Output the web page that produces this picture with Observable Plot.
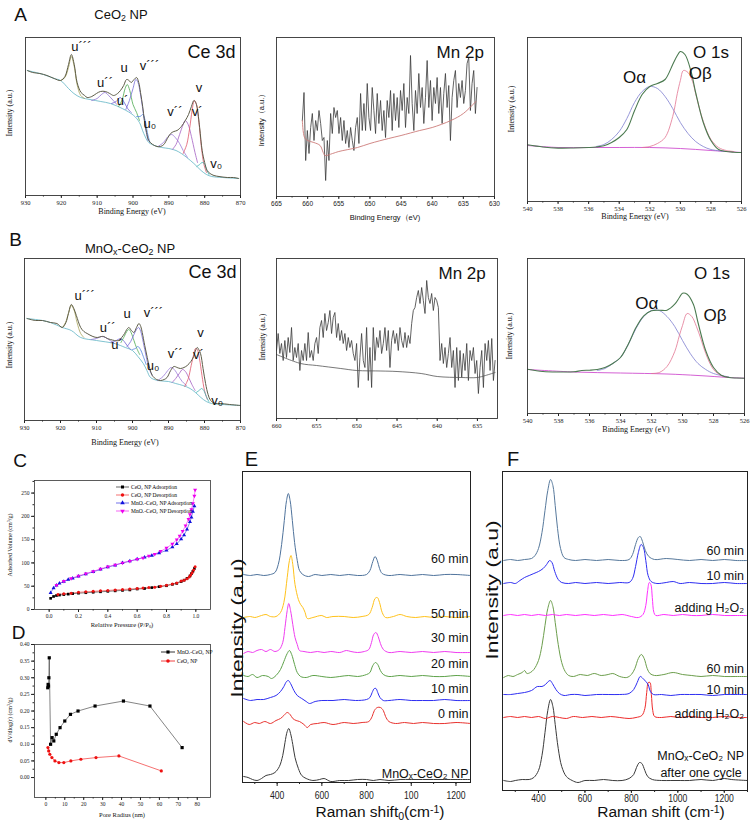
<!DOCTYPE html>
<html><head><meta charset="utf-8">
<script src="https://cdn.jsdelivr.net/npm/d3@7"></script>
<script src="https://cdn.jsdelivr.net/npm/@observablehq/plot@0.6"></script>
<style>
html,body{margin:0;padding:0;background:#fff;}
#fig{position:relative;width:753px;height:823px;overflow:hidden;background:#fff;}
sub{font-size:0.68em;vertical-align:-0.28em;line-height:0;}
sup{font-size:0.68em;vertical-align:0.45em;line-height:0;}
</style></head><body><div id="fig"></div>
<script>
// ---------------- DATA ----------------
// Ce 3d, CeO2 NP  [binding energy eV, intensity a.u.]
const ceA_env = [[929.5,122],[928,120],[926,119],[924,117],[922,114],[920.2,112],[919,116],[918,128],[917.2,138],[916.4,128],[915.6,110],[914.5,100],[913.5,97],[912.8,95],[911.5,96],[910.2,99],[909.1,101],[907.7,101],[906.5,99],[905.4,97],[904.3,99],[903.5,102],[902.6,107],[901.8,113],[901.1,112],[900.5,110],[899.7,113],[899.0,115],[898.4,110],[897.9,100],[897.3,86],[896.8,72],[896.2,60],[895.6,52],[894.5,48],[893.3,46],[892.3,46],[891.4,48],[890.4,54],[889.5,59],[888.6,61],[887.7,62],[886.5,66],[885.4,72],[884.5,78],[883.7,86],[883.0,92],[882.5,90],[882.1,85],[881.4,65],[880.7,42],[880.0,30],[879.3,22],[878.5,19],[877.4,17],[876,16],[873.7,15],[872,15],[870.5,14]];
const ceA_bg = [[929.5,122],[925,118],[922,114],[920.2,112],[918,104],[916.5,99],[914.6,95],[912,93],[909,91],[906.3,89],[903,84],[899.8,77],[898.2,70],[897,59],[895.6,50],[894,47],[892,45],[890,44],[888,42],[886.5,39],[885,35],[883,29],[881,22],[879.5,18],[878,16],[875,15],[870.5,14]];
const ceA_u3 = [[920.2,112],[919,115],[918,125],[917.2,136],[916.4,126],[915.6,108],[914.6,97],[913.5,94]];
const ceA_u2 = [[911.5,92],[910,94],[908.8,98],[907.8,100],[906.8,97],[905.5,92],[904.5,88]];
const ceA_u1 = [[906,89],[904.7,91],[903.6,95],[902.6,91],[901.5,84],[900.5,80]];
const ceA_u  = [[904,86],[903,93],[902.2,104],[901.6,108],[900.9,102],[900,88],[899,80],[898.2,72]];
const ceA_v3 = [[902,83],[901,92],[900,104],[899.2,113],[898.6,110],[898,100],[897.3,84],[896.5,64],[895.8,52]];
const ceA_u0 = [[899,76],[898,76],[897.3,78],[896.6,72],[896,60],[895.3,50]];
const ceA_v2 = [[893,46],[891.5,50],[890.2,56],[889.2,58],[888.2,55],[887,49],[886,42],[884.8,35]];
const ceA_v1 = [[889,43],[888,48],[887,58],[886,68],[885.4,72],[884.6,68],[883.7,56],[882.7,40],[882,30]];
const ceA_v  = [[886,39],[885,48],[884.2,64],[883.5,82],[882.9,92],[882.3,88],[881.6,70],[880.9,45],[880.2,28],[879.5,20]];
const ceA_v0 = [[882.2,26],[881.4,28],[880.7,30],[880.1,29],[879.5,23],[878.8,18]];
// Ce 3d, MnOx-CeO2 NP
const ceB_env = [[929.3,102],[927,100],[925,100],[922.8,98],[921,97],[919.5,93],[918.5,98],[917.8,107],[917.0,116],[916.3,112],[915.6,105],[914.4,93],[913.5,89],[912.6,87],[911,84],[909.8,83],[908.6,84],[908,84],[907,82],[906.1,81],[905,80],[903.8,80],[903,83],[902.2,87],[901.6,91],[901.0,93],[900.3,90],[899.6,88],[898.9,93],[898.2,97],[897.7,94],[897.3,88],[896.6,75],[895.9,63],[895.2,52],[894.5,45],[893.3,41],[892.2,40],[891.2,41],[890.4,43],[889.4,50],[888.5,54],[887.6,53],[886.7,52],[885.7,53],[884.8,55],[883.8,59],[883.0,64],[882.4,71],[882.0,73],[881.6,71],[881.1,67],[880.4,52],[879.7,37],[879,26],[878.3,20],[877,17],[875.6,17],[873,16],[870,15]];
const ceB_bg = [[929.3,102],[925,100],[922.8,98],[919.5,93],[917,90],[914.4,83],[910,80],[905,77],[902,73],[900,70],[898.5,64],[897,57],[896,50],[895,43],[893,40],[890,39],[888,37],[886,35],[884,32],[882.5,28],[881,23],[879.5,19],[878,17],[875,16],[870,15]];
const ceB_u3 = [[919.5,93],[918.6,98],[917.8,107],[917,115],[916.2,110],[915.4,98],[914.4,87],[913.5,83]];
const ceB_u2 = [[911.5,81],[910,82],[908.6,84],[907.5,83],[906.2,80],[905,77]];
const ceB_u1 = [[906,78],[905,79],[904,81],[903.2,82],[902.3,79],[901.3,74],[900.5,71]];
const ceB_u  = [[903.2,78],[902.3,84],[901.6,89],[901,91],[900.4,88],[899.6,80],[898.8,72],[898,66]];
const ceB_v3 = [[901.5,74],[900.5,79],[899.6,86],[898.9,91],[898.3,93],[897.7,89],[897,78],[896.2,64],[895.4,52],[894.5,45]];
const ceB_u0 = [[900,71],[899.2,72],[898.5,74],[897.8,71],[897,64],[896.2,56]];
const ceB_v2 = [[893,40],[891.5,44],[890.2,50],[889.3,53],[888.4,51],[887.3,45],[886.2,39],[885,35]];
const ceB_v1 = [[889,38],[888,42],[887,47],[886.1,51],[885.3,49],[884.4,43],[883.5,36],[882.6,30]];
const ceB_v  = [[885.5,34],[884.5,42],[883.7,55],[883,66],[882.5,72],[882,71],[881.4,62],[880.7,45],[880,30],[879.2,21]];
const ceB_v0 = [[882.3,28],[881.5,30],[880.8,32],[880.2,30],[879.5,24],[878.8,19]];
const cePeakNames = ["u´´´","u´´","u´","u","v´´´","u₀","v´´","v´","v","v₀"];

// Mn 2p (intensity sampled evenly from start to end energy)
const mnA_range = [660.85, 632.8];
const mnA_vals = [76,104,36,66,43,69,83,56,76,66,86,73,56,59,16,56,36,83,63,89,79,86,63,79,56,76,53,66,49,69,56,46,69,79,53,103,66,93,66,113,79,66,109,86,63,103,73,96,66,86,59,96,79,106,66,103,76,99,69,106,86,113,69,99,83,141,93,66,106,83,123,89,109,73,99,136,89,116,76,109,93,119,83,109,73,103,123,89,111,56,99,116,126,89,113,99,116,93,106,133,139,86,113,126,83,109];
const mnA_bg = [[660.85,76],[660.5,59],[660,56],[659,54],[658,51],[657.5,44],[657.2,41],[656,43],[655,45],[652,49],[650,53],[647,58],[645,61],[642,66],[640,69],[637,76],[635,83],[633,95]];
const mnB_range = [660, 632.8];
const mnB_vals = [68,85,65,75,58,78,61,81,66,91,58,71,61,75,48,68,58,75,58,86,61,68,58,75,81,65,91,98,81,105,88,96,108,85,101,106,81,95,78,88,75,85,68,81,71,78,65,58,75,31,61,85,58,51,91,38,71,31,91,58,81,71,88,65,75,91,68,88,51,78,88,75,85,68,91,78,71,86,71,83,75,95,108,111,121,128,115,131,118,105,138,121,115,125,108,121,118,111,58,75,55,71,51,65,81,51,68,31,71,38,68,41,65,48,75,38,68,58,71,45,58,25,51,68,31,75,58,78,48,80,38,58];
const mnB_bg = [[660,64],[657,55],[655,53],[652,50],[650,48],[647,47.5],[645,47],[642,45],[640,42],[637,41],[635,41],[634,43],[632.8,46]];

// O 1s
const oA_env = [[540,56.7],[539,54.5],[538,53.4],[537,53.5],[536,54],[535.5,54.5],[535,55.7],[534.5,59],[534,64],[533.5,72],[533,90.7],[532.5,107],[532,115],[531.5,118],[531,122],[530.5,137],[530.2,146],[530,150],[529.7,147],[529.3,130],[529,109],[528.5,79],[528,61],[527.5,52],[527,50],[526.5,49.3],[526,49]];
const oA_bg = [[540,56],[538,54],[536,54],[534,54],[532,54],[530,53],[528,51],[526,49]];
const oA_alpha = [[535.5,55],[535,57],[534.5,62],[534,70],[533.5,83],[533,99],[532.5,110],[532,115],[531.5,113],[531,105],[530.5,93],[530,79],[529.5,68],[529,60],[528.5,55],[528,52],[527,50]];
const oA_beta = [[532.5,54],[532,55],[531.5,58],[531,64],[530.5,85],[530.2,108],[530,121],[529.8,131],[529.5,129],[529.2,120],[529,108],[528.5,80],[528,62],[527.5,54],[527,51],[526.5,50]];
const oB_env = [[540,44.3],[539,42],[538,41.5],[537,41.7],[536.5,43],[536,43.3],[535.5,44],[535,46],[534.5,50],[534,56],[533.5,69.3],[533,86],[532.5,97.7],[532,102.7],[531.5,103.3],[531,103.3],[530.5,109.3],[530.2,116],[530,120.3],[529.7,119.3],[529.3,109.3],[529,91],[528.5,62.7],[528,46],[527.5,38.3],[527,36],[526.5,35.5],[526,35.3]];
const oB_bg = [[540,44],[537,41.5],[534,40.5],[531,39.5],[529,38],[527,36],[526,35.3]];
const oB_alpha = [[535.5,43],[535,45],[534.5,50],[534,56],[533.5,69],[533,85],[532.5,97],[532,103],[531.5,103],[531,97],[530.5,87],[530,73],[529.5,60],[529,50],[528.5,44],[528,40],[527,36.5]];
const oB_beta = [[532,40],[531.5,41],[531,47],[530.5,62],[530.2,78],[530,88],[529.7,100],[529.4,97],[529.1,87],[528.8,74],[528.5,60],[528,44],[527.5,38],[527,36]];

// C: N2 isotherms [P/P0, volume cm3/g]
const iso_ceAds = [[0.01,24],[0.03,28],[0.05,30],[0.07,31],[0.1,32],[0.13,33],[0.16,34],[0.2,35],[0.25,36],[0.3,37],[0.35,38],[0.4,39],[0.45,40],[0.5,41],[0.55,42],[0.6,44],[0.65,45],[0.7,47],[0.75,49],[0.8,51],[0.84,54],[0.87,56],[0.9,60],[0.92,63],[0.94,67],[0.96,72],[0.97,77],[0.98,82],[0.99,88]];
const iso_ceDes = [[0.995,92],[0.985,85],[0.975,79],[0.965,74],[0.955,70],[0.94,66],[0.92,63],[0.9,61],[0.87,57],[0.84,55],[0.8,52],[0.76,50],[0.72,48],[0.68,47],[0.64,46],[0.6,45],[0.55,44],[0.5,43],[0.45,42],[0.4,41],[0.35,40],[0.3,39],[0.25,38],[0.2,37],[0.15,35],[0.1,34],[0.06,32]];
const iso_mnAds = [[0.01,36],[0.03,46],[0.05,52],[0.07,56],[0.1,60],[0.13,64],[0.16,67],[0.2,71],[0.25,76],[0.3,81],[0.35,86],[0.4,91],[0.45,95],[0.5,100],[0.55,104],[0.6,108],[0.65,112],[0.7,116],[0.75,121],[0.8,127],[0.84,134],[0.87,141],[0.9,151],[0.92,160],[0.94,172],[0.96,188],[0.97,198],[0.98,210],[0.99,222]];
const iso_mnDes = [[0.995,257],[0.99,244],[0.98,228],[0.97,215],[0.96,204],[0.95,194],[0.93,180],[0.91,168],[0.89,158],[0.87,150],[0.84,141],[0.8,132],[0.76,125],[0.72,119],[0.68,115],[0.64,111],[0.6,108],[0.55,104],[0.5,100],[0.45,96],[0.4,92],[0.35,87],[0.3,82],[0.25,77],[0.2,72],[0.15,67],[0.1,61],[0.05,52]];
const iso_names = ["CeO₂ NP Adsorption","CeO₂ NP Desorption","MnOₓ-CeO₂ NP Adsorption","MnOₓ-CeO₂ NP Desorption"];

// D: pore size distribution [radius nm, dV/dlog(r)]
const pore_mn = [[1.0,0.27],[1.2,0.28],[1.4,0.275],[1.6,0.30],[1.8,0.36],[2.5,0.10],[3.3,0.12],[4.2,0.11],[5.5,0.13],[7.5,0.15],[10,0.17],[13,0.19],[17,0.20],[26,0.215],[41,0.23],[55,0.215],[72,0.09]];
const pore_ce = [[1.1,0.09],[1.5,0.08],[2.1,0.07],[3.2,0.06],[4.8,0.05],[6.9,0.045],[9.5,0.045],[13.2,0.05],[18.5,0.055],[26.5,0.06],[38.6,0.065],[61,0.02]];
const pore_names = ["MnOₓ-CeO₂ NP","CeO₂ NP"];

// E: Raman spectra [Raman shift cm-1, intensity a.u. (stacked)]
const E_np = [[250,6],[270,5],[290,3],[310,2],[330,4],[350,7],[370,8],[390,10],[410,16],[425,27],[435,40],[445,51],[452,54],[460,49],[470,38],[480,25],[495,14],[510,7],[530,4],[560,2],[590,3],[610,4],[640,1],[680,2],[720,2],[760,3],[800,3],[830,2],[860,3],[900,2],[950,3],[1000,3],[1050,3],[1100,3],[1150,3],[1200,3],[1265,3]];
const E_0 = [[250,61],[275,58],[300,60],[320,59],[345,61],[370,59],[395,62],[415,64],[430,67],[445,70],[458,68],[470,64],[485,62],[500,61],[520,58],[535,55],[550,58],[580,59],[610,60],[650,58],[700,60],[740,59],[780,60],[810,61],[825,66],[835,72],[848,75],[862,75],[875,72],[885,66],[900,61],[930,59],[970,60],[1010,59],[1050,60],[1100,59],[1150,59],[1200,60],[1265,59]];
const E_10 = [[250,84],[280,82],[310,83],[340,83],[370,85],[395,87],[415,91],[430,96],[442,101],[450,102],[460,99],[475,92],[490,87],[510,84],[530,81],[545,79],[570,81],[600,82],[650,82],[700,83],[750,82],[800,83],[815,85],[825,90],[835,94],[842,94],[850,90],[860,85],[875,82],[900,82],[950,83],[1000,82],[1050,82],[1100,82],[1150,83],[1200,82],[1265,82]];
const E_20 = [[250,107],[270,106],[290,108],[310,105],[335,107],[360,106],[375,104],[395,107],[415,113],[430,121],[445,129],[455,132],[465,128],[478,118],[490,110],[505,106],[530,105],[560,107],[600,106],[640,105],[680,106],[720,107],[760,106],[800,108],[815,110],[828,117],[840,120],[850,118],[862,112],[875,108],[900,106],[950,107],[1000,106],[1050,107],[1100,106],[1150,106],[1200,107],[1265,106]];
const E_30 = [[250,129],[270,131],[290,130],[310,132],[330,133],[350,131],[370,133],[390,131],[410,133],[425,140],[435,155],[445,172],[452,179],[460,172],[470,158],[480,145],[490,138],[500,132],[520,131],[550,130],[580,131],[610,130],[640,131],[680,130],[710,132],[730,131],[760,130],[790,131],[810,133],[822,140],[832,148],[842,150],[852,146],[862,139],[875,133],[900,130],[950,131],[1000,130],[1050,131],[1100,130],[1150,131],[1200,130],[1265,130]];
const E_50 = [[250,165],[280,166],[300,165],[330,167],[350,168],[370,166],[395,166],[415,170],[430,180],[445,205],[455,222],[462,227],[470,218],[480,198],[495,183],[505,178],[515,175],[525,170],[535,164],[560,165],[600,167],[620,165],[650,166],[700,166],[740,165],[780,166],[810,168],[825,175],[838,184],[848,185],[858,180],[870,170],[885,165],[920,166],[950,168],[980,166],[1020,165],[1060,166],[1100,165],[1150,166],[1200,165],[1265,166]];
const E_60 = [[250,208],[280,207],[310,208],[340,207],[370,208],[390,210],[405,218],[420,238],[432,262],[442,282],[450,289],[458,282],[468,262],[478,240],[490,222],[500,212],[515,208],[540,206],[570,208],[600,207],[640,208],[680,207],[720,208],[760,207],[800,208],[815,212],[828,221],[838,226],[848,222],[858,214],[870,209],[900,207],[950,208],[1000,207],[1050,208],[1100,207],[1150,208],[1200,208],[1265,207]];
const E_names = ["MnOₓ-CeO₂ NP","0 min","10 min","20 min","30 min","50 min","60 min"];
const E_tickValues = [400,600,800,1000,1200];
const E_tickLabels = ["400","600","800","100","1200"];

// F: Raman spectra over two H2O2 cycles
const F_np = [[250,10],[280,9],[300,10],[330,11],[360,11],[380,13],[400,20],[415,35],[428,58],[440,80],[452,91],[462,84],[472,66],[485,42],[500,24],[520,14],[545,10],[570,8],[600,10],[640,10],[680,11],[720,10],[760,10],[790,12],[810,16],[822,23],[835,28],[845,27],[858,20],[870,14],[890,11],[930,10],[970,10],[1010,10],[1050,10],[1100,11],[1150,10],[1200,12],[1230,11],[1300,10]];
const F_h2o2a = [[250,73],[280,74],[310,73],[340,74],[370,73],[400,74],[430,72],[460,74],[490,73],[520,72],[550,74],[590,73],[630,74],[670,73],[710,74],[750,73],[790,72],[820,73],[845,75],[858,82],[866,98],[873,108],[880,108],[886,96],[892,80],[900,74],[930,73],[970,74],[1010,73],[1050,74],[1100,73],[1150,73],[1200,74],[1250,73],[1300,73]];
const F_10a = [[250,96],[280,96],[310,97],[340,98],[370,100],[395,104],[415,104],[430,106],[442,109],[450,110],[460,107],[475,101],[490,97],[510,95],[540,96],[570,96],[600,95],[650,96],[700,96],[750,96],[790,97],[810,101],[825,108],[838,114],[850,112],[862,109],[872,106],[882,99],[895,96],[930,96],[970,95],[1010,96],[1050,96],[1100,96],[1150,95],[1200,96],[1250,96],[1300,96]];
const F_60a = [[250,113],[270,115],[290,114],[310,116],[330,118],[340,120],[350,117],[365,118],[380,121],[400,130],[415,145],[428,165],[440,182],[452,190],[462,184],[472,168],[485,146],[500,128],[515,119],[530,115],[550,114],[580,116],[610,115],[640,117],[670,115],[700,116],[720,117],[750,114],[780,113],[800,116],[815,122],[830,132],[843,136],[855,132],[868,122],[880,117],[900,115],[940,116],[980,118],[1020,116],[1060,115],[1100,114],[1150,115],[1200,114],[1250,114],[1300,114]];
const F_h2o2b = [[250,175],[280,176],[310,175],[340,176],[370,175],[400,176],[430,175],[460,176],[490,175],[520,176],[560,175],[600,176],[640,175],[680,176],[720,175],[760,176],[800,174],[830,173],[850,176],[862,185],[870,200],[877,208],[884,206],[890,193],[897,178],[905,175],[940,176],[980,175],[1020,176],[1060,175],[1100,175],[1150,176],[1200,175],[1250,175],[1300,175]];
const F_10b = [[250,207],[280,208],[300,207],[320,210],[340,213],[360,215],[380,217],[400,219],[420,222],[435,226],[448,230],[458,228],[470,219],[485,211],[500,208],[530,207],[560,208],[600,207],[650,208],[700,207],[750,208],[790,208],[805,212],[818,224],[830,238],[842,246],[852,243],[862,230],[872,215],[885,209],[910,207],[950,208],[980,209],[1010,207],[1050,208],[1100,207],[1150,207],[1200,208],[1250,207],[1300,207]];
const F_60b = [[250,230],[280,231],[310,230],[340,231],[370,232],[385,235],[400,242],[415,258],[428,280],[440,300],[452,311],[462,305],[472,285],[482,262],[495,242],[510,233],[530,231],[560,230],[600,231],[650,230],[700,231],[750,230],[790,231],[805,236],[818,246],[830,253],[838,254],[848,249],[860,240],[875,234],[900,231],[950,232],[1000,231],[1050,230],[1100,231],[1150,230],[1200,231],[1250,230],[1300,230]];
const F_names = ["MnOₓ-CeO₂ NP","adding H₂O₂","10 min","60 min","adding H₂O₂","10 min","60 min"];
const F_tickValues = [400,600,800,1000,1200];

// ---------------- STYLE / LAYOUT ----------------
const fig = document.getElementById('fig');
const SERIF = '"Liberation Serif","DejaVu Serif",serif';
const SANS = '"Liberation Sans",Arial,"DejaVu Sans",sans-serif';
const cePeakColors = ["#a7a35a","#8c6fcf","#6f5fd0","#4aa84e","#7468d8","#4d7fe0","#9a7ad8","#a35fc3","#e0566a","#3fb2b2"];

function addPlot(frame, m, opts) {
  const [x0,y0,x1,y1] = frame, [mt,mr,mb,ml] = m;
  const svg = Plot.plot({
    width: x1-x0+ml+mr, height: y1-y0+mt+mb,
    marginTop: mt, marginRight: mr, marginBottom: mb, marginLeft: ml, inset: 0,
    ...opts,
    style: {background:'transparent', overflow:'visible', color:'#222', ...(opts.style||{})}
  });
  svg.style.position='absolute'; svg.style.left=(x0-ml)+'px'; svg.style.top=(y0-mt)+'px';
  fig.appendChild(svg);
  return svg;
}
// narrow the tick labels horizontally (the reference's axis numbers are condensed)
function squeezeTickLabels(svg, k) {
  svg.querySelectorAll('[aria-label="x-axis tick label"] text').forEach(t => {
    t.setAttribute('transform', (t.getAttribute('transform') || '') + ` scale(${k},1)`);
  });
}
function label(html, x, y, {size=12, font=SANS, rotate=0, anchor='middle', color='#111', sx=1}={}) {
  const o = document.createElement('div');
  o.style.cssText = `position:absolute;left:${x}px;top:${y}px;width:0;height:0;transform-origin:0 0;transform:scale(${sx},1) rotate(${rotate}deg);`;
  const s = document.createElement('span');
  const tx = anchor==='middle'?'-50%':anchor==='end'?'-100%':'0';
  s.style.cssText = `position:absolute;left:0;top:0;transform:translate(${tx},-50%);white-space:nowrap;font-size:${size}px;font-family:${font};line-height:1;color:${color}`;
  s.innerHTML = html;
  o.appendChild(s); fig.appendChild(o);
}
const note = (str, x, y, o={}) => Plot.text([str], {x: () => x, y: () => y, text: d => d, fontSize: 13, fontFamily: SANS, fill: '#111', ...o});
const X = d => d[0], Y = d => d[1];
const evenly = (range, vals) => vals.map((v,i) => [range[0] + (range[1]-range[0]) * i / (vals.length-1), v]);
const longForm = (names, arrs) => arrs.flatMap((a,i) => a.map(p => [names[i], p[0], p[1]]));

// ---------------- PANEL A / B : Ce 3d ----------------
function ce3d(frame, ydom, env, bg, comps, labelPos) {
  const comp = longForm(cePeakNames, comps);
  addPlot(frame, [2,4,14,2], {
    x:{domain:[930,870]}, y:{domain:ydom, axis:null},
    color:{domain:cePeakNames, range:cePeakColors},
    style:{fontFamily:SERIF, fontSize:'6.5px'},
    marks:[
      Plot.axisX({ticks:d3.range(870,931,5), tickSize:1.5, tickFormat:()=>'', label:null}),
      Plot.axisX({ticks:d3.range(870,931,10), tickSize:3, tickPadding:1.5, label:null}),
      Plot.line(bg, {x:X, y:Y, stroke:'#5fb4c4', strokeWidth:0.8, curve:'catmull-rom'}),
      Plot.line(comp, {x:d=>d[1], y:d=>d[2], z:d=>d[0], stroke:d=>d[0], strokeWidth:0.8, curve:'catmull-rom'}),
      Plot.line(env, {x:X, y:Y, stroke:'#5d5c48', strokeWidth:1, curve:'catmull-rom'}),
      Plot.frame({stroke:'#333', strokeWidth:0.9}),
      note("Ce 3d", labelPos.ce[0], labelPos.ce[1], {fontSize:18}),
      ...cePeakNames.map((n,i)=>note(n, labelPos.p[i][0], labelPos.p[i][1]))
    ]
  });
}
ce3d([25,37,240,195], [-3,155], ceA_env, ceA_bg,
  [ceA_u3,ceA_u2,ceA_u1,ceA_u,ceA_v3,ceA_u0,ceA_v2,ceA_v1,ceA_v,ceA_v0],
  {ce:[878.1,140], p:[[914.4,146],[907.8,110],[902.9,92],[902.5,125],[895.4,127],[895.3,69],[888.3,81],[882.1,81],[881.6,105],[876.8,29]]});
ce3d([24,258,240,420], [0,162], ceB_env, ceB_bg,
  [ceB_u3,ceB_u2,ceB_u1,ceB_u,ceB_v3,ceB_u0,ceB_v2,ceB_v1,ceB_v,ceB_v0],
  {ce:[877.8,148], p:[[913.3,125],[906.9,93],[904.3,76],[901.5,107],[894.2,108],[894.3,55],[888.1,67],[881.7,66],[881.1,88],[876.5,20]]});

// ---------------- Mn 2p ----------------
addPlot([276,37,494,196], [2,4,14,2], {
  x:{domain:[665,630]}, y:{domain:[0,159], axis:null},
  style:{fontFamily:SANS, fontSize:'6.5px'},
  marks:[
    Plot.axisX({ticks:d3.range(630,666,2.5), tickSize:1.5, tickFormat:()=>'', label:null}),
    Plot.axisX({ticks:d3.range(630,666,5), tickSize:3, tickPadding:1.5, label:null}),
    Plot.line(evenly(mnA_range, mnA_vals), {x:X, y:Y, stroke:'#3a3a3a', strokeWidth:0.8}),
    Plot.line(mnA_bg, {x:X, y:Y, stroke:'#cc7b78', strokeWidth:0.9, curve:'catmull-rom'}),
    Plot.frame({stroke:'#333', strokeWidth:0.9}),
    note("Mn 2p", 635.5, 144, {fontSize:17})
  ]
});
addPlot([276,258,497,418], [2,4,14,2], {
  x:{domain:[660,632.5]}, y:{domain:[0,160], axis:null},
  style:{fontFamily:SERIF, fontSize:'6.5px'},
  marks:[
    Plot.axisX({ticks:d3.range(635,661,2.5), tickSize:1.5, tickFormat:()=>'', label:null}),
    Plot.axisX({ticks:d3.range(635,661,5), tickSize:3, tickPadding:2, label:null}),
    Plot.line(evenly(mnB_range, mnB_vals), {x:X, y:Y, stroke:'#3a3a3a', strokeWidth:0.8}),
    Plot.line(mnB_bg, {x:X, y:Y, stroke:'#555', strokeWidth:0.8, curve:'catmull-rom'}),
    Plot.frame({stroke:'#333', strokeWidth:0.9}),
    note("Mn 2p", 636.9, 145, {fontSize:17})
  ]
});

// ---------------- O 1s ----------------
function o1s(frame, ydom, env, bg, a, b, pos) {
  addPlot(frame, [2,4,14,2], {
    x:{domain:[540,526]}, y:{domain:ydom, axis:null},
    style:{fontFamily:SERIF, fontSize:'6.5px'},
    marks:[
      Plot.axisX({ticks:d3.range(526,541,1), tickSize:1.5, tickFormat:()=>'', label:null}),
      Plot.axisX({ticks:d3.range(526,541,2), tickSize:3, tickPadding:1.5, label:null}),
      Plot.line(bg, {x:X, y:Y, stroke:'#cf4fcf', strokeWidth:0.9, curve:'catmull-rom'}),
      Plot.line(a, {x:X, y:Y, stroke:'#7d7dcf', strokeWidth:0.8, curve:'catmull-rom'}),
      Plot.line(b, {x:X, y:Y, stroke:'#e27592', strokeWidth:0.8, curve:'catmull-rom'}),
      Plot.line(env, {x:X, y:Y, stroke:'#4b7a50', strokeWidth:1.1, curve:'catmull-rom'}),
      Plot.frame({stroke:'#333', strokeWidth:0.9}),
      note("O 1s", pos[0][0], pos[0][1], {fontSize:17}),
      note("Oα", pos[1][0], pos[1][1], {fontSize:17}),
      note("Oβ", pos[2][0], pos[2][1], {fontSize:17})
    ]
  });
}
o1s([527,37,741,201], [0,164], oA_env, oA_bg, oA_alpha, oA_beta, [[528.0,149],[533.0,124],[528.7,128]]);
o1s([527,258,744,413], [0,155], oB_env, oB_bg, oB_alpha, oB_beta, [[528.1,140],[532.3,110],[527.9,98]]);

// ---------------- C: isotherms ----------------
const isoColors = ["#000","#e11","#11d","#e0e"];
const isoSym = ["square","circle","triangle","triangle"];
const isoSets = [iso_ceAds, iso_ceDes, iso_mnAds, iso_mnDes];
addPlot([34,480,210,609], [2,4,14,16], {
  x:{domain:[-0.1,1.1]}, y:{domain:[0,277]},
  style:{fontFamily:SERIF, fontSize:'5.5px'},
  marks:[
    Plot.axisX({ticks:d3.range(0,1.01,0.1), tickSize:1.5, tickFormat:()=>'', label:null}),
    Plot.axisX({ticks:[0,0.2,0.4,0.6,0.8,1.0], tickSize:3, tickPadding:1.5, tickFormat:'.1f', label:null}),
    Plot.axisY({ticks:d3.range(0,276,25), tickSize:1.5, tickFormat:()=>'', label:null}),
    Plot.axisY({ticks:d3.range(0,251,50), tickSize:3, tickPadding:2, label:null}),
    ...isoSets.map((s,i)=>Plot.line(s, {x:X, y:Y, stroke:isoColors[i], strokeWidth:0.5})),
    ...isoSets.map((s,i)=>Plot.dot(s, {x:X, y:Y, symbol:isoSym[i], fill:isoColors[i], r:1.5, rotate:i===3?180:0})),
    Plot.frame({stroke:'#333', strokeWidth:0.8})
  ]
});

// ---------------- D: pore size ----------------
addPlot([34,644,210,797], [2,4,14,16], {
  x:{domain:[-6,87]}, y:{domain:[-0.06,0.40]},
  style:{fontFamily:SERIF, fontSize:'5.5px'},
  marks:[
    Plot.axisX({ticks:d3.range(0,81,5), tickSize:1.5, tickFormat:()=>'', label:null}),
    Plot.axisX({ticks:d3.range(0,81,10), tickSize:3, tickPadding:1.5, label:null}),
    Plot.axisY({ticks:d3.range(0,0.401,0.025), tickSize:1.5, tickFormat:()=>'', label:null}),
    Plot.axisY({ticks:d3.range(0,0.401,0.05), tickSize:3, tickPadding:2, tickFormat:'.2f', label:null}),
    Plot.line(pore_mn, {x:X, y:Y, stroke:'#333', strokeWidth:0.6}),
    Plot.line(pore_ce, {x:X, y:Y, stroke:'#e11', strokeWidth:0.6}),
    Plot.dot(pore_mn, {x:X, y:Y, symbol:'square', fill:'#000', r:1.8}),
    Plot.dot(pore_ce, {x:X, y:Y, symbol:'circle', fill:'#e11', r:1.6}),
    Plot.frame({stroke:'#333', strokeWidth:0.8})
  ]
});

// ---------------- E / F: Raman ----------------
const E_sets = [E_np, E_0, E_10, E_20, E_30, E_50, E_60];
const E_colors = ["#3a3a3a","#e8322e","#2e2ef2","#5ea24a","#f03cf0","#ffc21a","#4f739c"];
const E_labelY = [9, 69, 94, 119, 145, 169, 224];
const svgE = addPlot([242,471,470,782], [2,4,22,2], {
  x:{domain:[245,1265]}, y:{domain:[0,311], axis:null},
  style:{fontFamily:SANS, fontSize:'11.5px'},
  marks:[
    Plot.axisX({ticks:d3.range(300,1261,100), tickSize:2, tickFormat:()=>'', label:null}),
    Plot.axisX({ticks:E_tickValues, tickSize:4, tickPadding:4, tickFormat:(d)=>E_tickLabels[E_tickValues.indexOf(d)], label:null}),
    ...E_sets.map((s,i)=>Plot.line(s, {x:X, y:Y, stroke:E_colors[i], strokeWidth:1, curve:'catmull-rom'})),
    Plot.frame({stroke:'#222', strokeWidth:1}),
    ...E_names.map((n,i)=>note(n, 1256, E_labelY[i], {fontSize:12.5, textAnchor:'end'}))
  ]
});
squeezeTickLabels(svgE, 0.75);
const F_sets = [F_np, F_h2o2a, F_10a, F_60a, F_h2o2b, F_10b, F_60b];
const F_colors = ["#3a3a3a","#ee2a2a","#2e2ef2","#6c9e4c","#ff30ff","#2e2ef2","#57799c"];
const F_labelY = [35, 77, 101, 122, 183, 215, 240];
const svgF = addPlot([502,471,747,790], [2,4,22,2], {
  x:{domain:[245,1300]}, y:{domain:[0,319], axis:null},
  style:{fontFamily:SANS, fontSize:'11.5px'},
  marks:[
    Plot.axisX({ticks:d3.range(300,1301,100), tickSize:2, tickFormat:()=>'', label:null}),
    Plot.axisX({ticks:F_tickValues, tickSize:3, tickPadding:0, tickFormat:d=>String(d), label:null}),
    ...F_sets.map((s,i)=>Plot.line(s, {x:X, y:Y, stroke:F_colors[i], strokeWidth:1, curve:'catmull-rom'})),
    Plot.frame({stroke:'#222', strokeWidth:1}),
    ...F_names.map((n,i)=>note(n, 1285, F_labelY[i], {fontSize:12.5, textAnchor:'end'})),
    note("after one cycle", 1275, 18, {fontSize:12.5, textAnchor:'end'})
  ]
});
squeezeTickLabels(svgF, 0.75);

// ---------------- legends (C, D) ----------------
const ov = d3.select(fig).append('svg').attr('width',753).attr('height',823)
  .style('position','absolute').style('left','0').style('top','0').style('overflow','visible');
iso_names.forEach((n,i)=>{
  const y = 487 + i*8;
  ov.append('line').attr('x1',116).attr('x2',129).attr('y1',y).attr('y2',y).attr('stroke',isoColors[i]).attr('stroke-width',0.6);
  ov.append('path').attr('d', d3.symbol(i===0?d3.symbolSquare:i===1?d3.symbolCircle:d3.symbolTriangle, 9)())
    .attr('transform',`translate(122.5,${y}) rotate(${i===3?180:0})`).attr('fill',isoColors[i]);
  ov.append('text').attr('x',131).attr('y',y).attr('dy','0.35em').attr('font-family',SERIF).attr('font-size',5.5).text(n);
});
pore_names.forEach((n,i)=>{
  const y = 652 + i*9, c = i===0?'#000':'#e11';
  ov.append('line').attr('x1',161).attr('x2',175).attr('y1',y).attr('y2',y).attr('stroke',c).attr('stroke-width',0.8);
  ov.append('path').attr('d', d3.symbol(i===0?d3.symbolSquare:d3.symbolCircle, 10)()).attr('transform',`translate(168,${y})`).attr('fill',c);
  ov.append('text').attr('x',177).attr('y',y).attr('dy','0.35em').attr('font-family',SERIF).attr('font-size',5.5).text(n);
});

// ---------------- titles & axis labels ----------------
label("A", 20.5, 13.5, {size:19});
label("CeO<sub>2</sub> NP", 121, 14, {size:13});
label("B", 15.5, 239, {size:19});
label("MnO<sub>x</sub>-CeO<sub>2</sub> NP", 130, 248, {size:13});
label("C", 20, 460, {size:19});
label("D", 18.5, 631.5, {size:19});
label("E", 251.5, 458.5, {size:20});
label("F", 513, 458.5, {size:20});

label("Intensity (a.u.)", 10, 113, {size:8, font:SERIF, rotate:-90});
label("Binding Energy (eV)", 132, 212, {size:8, font:SERIF});
label("Intensity（a.u.）", 262, 118, {size:7.5, font:SANS, rotate:-90});
label("Binding Energy（eV)", 385, 218, {size:7.5, font:SANS});
label("Intensity (a.u.)", 512, 109, {size:8, font:SERIF, rotate:-90});
label("Binding Energy (eV)", 635, 217, {size:8, font:SERIF});
label("Intensity (a.u.)", 10, 345, {size:8, font:SERIF, rotate:-90});
label("Binding Energy (eV)", 125, 443, {size:8, font:SERIF});
label("Intensity (a.u.)", 263, 337, {size:8, font:SERIF, rotate:-90});
label("Intensity (a.u.)", 510, 336, {size:8, font:SERIF, rotate:-90});
label("Binding Energy (eV)", 636, 430, {size:8, font:SERIF});

label("Adsorbed Volume (cm<sup>3</sup>/g)", 10, 545, {size:6, font:SERIF, rotate:-90});
label("Relative Pressure (P/P<sub>0</sub>)", 122, 625, {size:6.5, font:SERIF});
label("dV/dlog(r) (cm<sup>3</sup>/g)", 10, 720, {size:6, font:SERIF, rotate:-90});
label("Pore Radius (nm)", 122, 815, {size:6.5, font:SERIF});

label("Intensity (a.u)", 238, 628, {size:23, rotate:-90, sx:0.72});
label("Raman shift<sub>0</sub>(cm<sup>-1</sup>)", 380, 812, {size:15.5});
label("Intensity (a.u)", 493, 590, {size:23, rotate:-90, sx:0.72});
label("Raman shift (cm<sup>-1</sup>)", 661, 812, {size:15.5});
</script></body></html>
